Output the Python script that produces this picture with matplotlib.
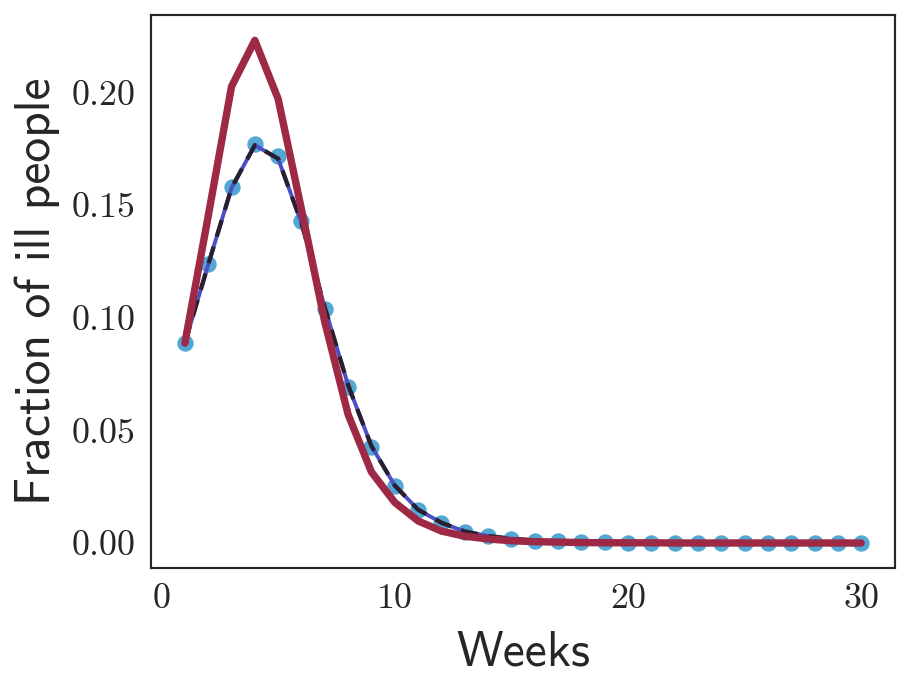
import numpy as np
import matplotlib
matplotlib.use("Agg")
import matplotlib.pyplot as plt
import seaborn as sns

weeks = list(range(1, 31))

# observed fraction of ill people (scatter)
observed = [0.0887, 0.124, 0.158, 0.177, 0.1716, 0.1428, 0.1038, 0.0692, 0.0426, 0.0253,
            0.0146, 0.0089, 0.0049, 0.0030, 0.0018, 0.0011, 0.0007, 0.0005, 0.0003, 0.0002,
            0.0002, 0.0001, 0.0001, 0.0001, 0.0, 0.0, 0.0, 0.0, 0.0, 0.0]

# fitted model (thin solid + dashed)
fitted = [0.0887, 0.1235, 0.1575, 0.1765, 0.1705, 0.1420, 0.1045, 0.0700, 0.0430, 0.0255,
          0.0148, 0.0090, 0.0051, 0.0031, 0.0019, 0.0011, 0.0007, 0.0004, 0.0003, 0.0002,
          0.0001, 0.0001, 0.0001, 0.0, 0.0, 0.0, 0.0, 0.0, 0.0, 0.0]

# simulated model (thick crimson)
simulated = [0.0887, 0.145, 0.2025, 0.2230, 0.1970, 0.1480, 0.0980, 0.0570, 0.0315, 0.0180,
             0.0098, 0.0053, 0.0030, 0.0018, 0.0010, 0.0006, 0.0004, 0.0002, 0.0001, 0.0001,
             0.0001, 0.0, 0.0, 0.0, 0.0, 0.0, 0.0, 0.0, 0.0, 0.0]

sns.set_style("white")

fig = plt.figure(figsize=(910 / 140, 692 / 140), dpi=140)
ax = fig.add_axes([0.166, 0.179, 0.8175, 0.799])

ax.scatter(weeks, observed, s=55, color="#52a7d3", zorder=2)
ax.plot(weeks, fitted, color="#4b4fc4", lw=2.0, zorder=3)
ax.plot(weeks, fitted, color="#2a1f2e", lw=2.2, ls=(0, (4, 2.5)), zorder=4)
ax.plot(weeks, simulated, color="#9e2944", lw=3.8, zorder=5)

ax.set_xticks([0, 10, 20, 30])
ax.set_yticks([0.0, 0.05, 0.10, 0.15, 0.20])
ax.set_yticklabels(["0.00", "0.05", "0.10", "0.15", "0.20"])
for lab in ax.get_xticklabels() + ax.get_yticklabels():
    lab.set_fontfamily("cmr10")
    lab.set_fontsize(18.5)
ax.tick_params(axis="both", length=0, pad=8)

ax.set_xlabel("Weeks", fontfamily="cmss10", fontsize=25.5, labelpad=8)
ax.set_ylabel("Fraction of ill people", fontfamily="cmss10", fontsize=25.5, labelpad=6)

for sp in ax.spines.values():
    sp.set_color("#262626")
    sp.set_linewidth(1.1)

fig.savefig("out.png", dpi=140)
